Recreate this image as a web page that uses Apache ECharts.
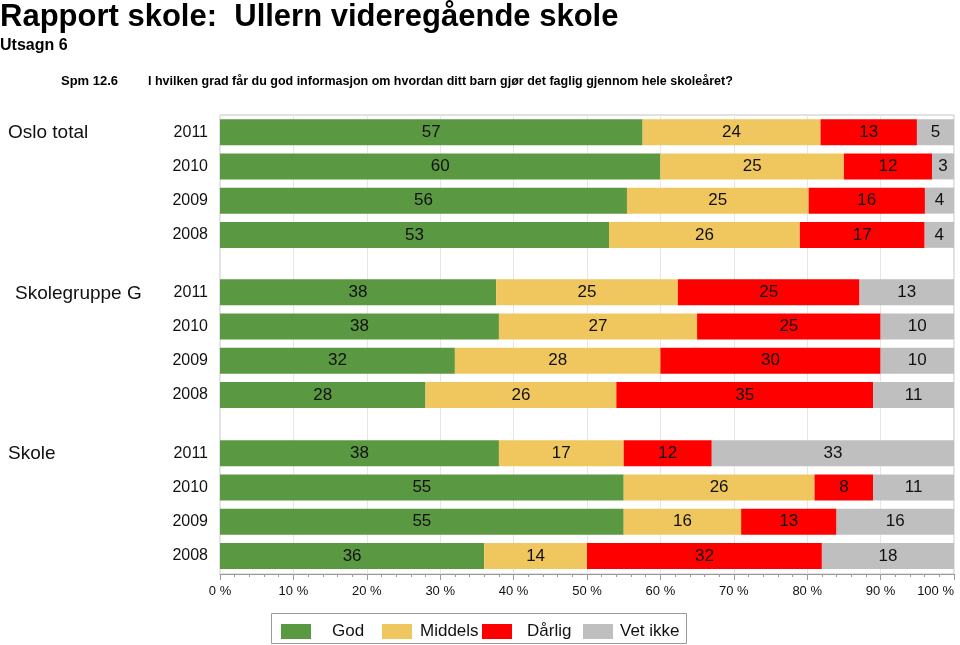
<!DOCTYPE html>
<html>
<head>
<meta charset="utf-8">
<script src="https://cdn.jsdelivr.net/npm/echarts@6/dist/echarts.min.js"></script>
<style>html,body{margin:0;padding:0;background:#fff;}#c{width:960px;height:645px;}</style>
</head>
<body>
<div id="c"></div>
<script>
// ---- data ----
const years = ['2011', '2010', '2009', '2008'];
const groups = ['Oslo total', 'Skolegruppe G', 'Skole'];
const seriesNames = ['God', 'Middels', 'Dårlig', 'Vet ikke'];
// values per group (rows = 2011, 2010, 2009, 2008)
const osloGod     = [57, 60, 56, 53];
const osloMiddels = [24, 25, 25, 26];
const osloDarlig  = [13, 12, 16, 17];
const osloVetIkke = [5, 3, 4, 4];
const gruppeGod     = [38, 38, 32, 28];
const gruppeMiddels = [25, 27, 28, 26];
const gruppeDarlig  = [25, 25, 30, 35];
const gruppeVetIkke = [13, 10, 10, 11];
const skoleGod     = [38, 55, 55, 36];
const skoleMiddels = [17, 26, 16, 14];
const skoleDarlig  = [12, 8, 13, 32];
const skoleVetIkke = [33, 11, 16, 18];
const axisTicks = [0, 10, 20, 30, 40, 50, 60, 70, 80, 90, 100];

const groupData = [
  [osloGod, osloMiddels, osloDarlig, osloVetIkke],
  [gruppeGod, gruppeMiddels, gruppeDarlig, gruppeVetIkke],
  [skoleGod, skoleMiddels, skoleDarlig, skoleVetIkke]
];
const colors = ['#5b9842', '#efc75e', '#fe0000', '#bfbfbf'];
const FONT = "'Liberation Sans', Arial, Helvetica, sans-serif";

const gridTops = [115, 275, 436];
const grids = [{left: 220, right: 6, top: 115, bottom: 71, show: true, borderColor: '#c4c4c4', borderWidth: 1,
  backgroundColor: 'transparent', containLabel: false, outerBoundsMode: 'none'}];
const xAxes = [{
  gridIndex: 0, type: 'value', min: 0, max: 100, interval: 10,
  axisLine: {show: true, lineStyle: {color: '#9a9a9a'}},
  axisTick: {show: true, length: 6, lineStyle: {color: '#9a9a9a'}},
  minorTick: {show: true, splitNumber: 5, length: 3, lineStyle: {color: '#9a9a9a'}},
  splitLine: {show: true, lineStyle: {color: '#e6e6e6'}},
  axisLabel: {margin: 11, fontSize: 13, color: '#111', fontFamily: FONT, alignMaxLabel: 'right',
    formatter: v => axisTicks.includes(v) ? v + ' %' : ''}
}];
const yAxes = [{gridIndex: 0, type: 'category', data: [''], show: false}];
const series = [];
groupData.forEach((g, gi) => {
  grids.push({left: 220, right: 6, top: gridTops[gi], height: 137, containLabel: false, outerBoundsMode: 'none'});
  xAxes.push({gridIndex: gi + 1, type: 'value', min: 0, max: 100, show: false});
  yAxes.push({gridIndex: gi + 1, type: 'category', data: years, inverse: true,
    axisLine: {show: false}, axisTick: {show: false}, splitLine: {show: false},
    axisLabel: {margin: 12, fontSize: 16, color: '#111', fontFamily: FONT}});
  g.forEach((vals, si) => {
    series.push({
      name: seriesNames[si], type: 'bar', stack: 'g' + gi,
      xAxisIndex: gi + 1, yAxisIndex: gi + 1, barWidth: 26,
      itemStyle: {color: colors[si]},
      label: {show: true, position: 'inside', color: '#111', fontSize: 17, fontFamily: FONT,
        formatter: p => p.data.raw},
      data: vals.map((v, i) => {
        const sum = g.reduce((s, arr) => s + arr[i], 0);
        return {value: v / sum * 100, raw: v};
      })
    });
  });
});

const titles = [
  {text: 'Rapport skole:  Ullern videregående skole', left: 0, top: 2, padding: 0,
    textStyle: {fontSize: 31, fontWeight: 'bold', color: '#000', fontFamily: FONT}},
  {text: 'Utsagn 6', left: 0, top: 38, padding: 0,
    textStyle: {fontSize: 16, fontWeight: 'bold', color: '#000', fontFamily: FONT}},
  {text: 'Spm 12.6', left: 61, top: 75, padding: 0,
    textStyle: {fontSize: 13, fontWeight: 'bold', color: '#000', fontFamily: FONT}},
  {text: 'I hvilken grad får du god informasjon om hvordan ditt barn gjør det faglig gjennom hele skoleåret?', left: 148, top: 75, padding: 0,
    textStyle: {fontSize: 12.5, fontWeight: 'bold', color: '#000', fontFamily: FONT}}
];
const groupLabelPos = [[8, 123], [15, 284], [8, 444]];
groups.forEach((name, i) => {
  titles.push({text: name, left: groupLabelPos[i][0], top: groupLabelPos[i][1], padding: 0,
    textStyle: {fontSize: 19, fontWeight: 'normal', color: '#111', fontFamily: FONT}});
});

// legend: one component per item so the texts sit centred in equal slots like the reference
const legendLeft = [281, 382, 482, 583];
const legendTextPad = [16, 3, 10, 2];
const legends = seriesNames.map((n, i) => ({
  data: [n], left: legendLeft[i], top: 623, padding: 0,
  itemWidth: 30, itemHeight: 15, icon: 'rect', selectedMode: false,
  textStyle: {color: '#111', fontFamily: FONT, fontSize: 17, lineHeight: 15,
    padding: [0, 0, 0, legendTextPad[i]]}
}));

const chart = echarts.init(document.getElementById('c'), null, {renderer: 'canvas'});
chart.setOption({
  animation: false,
  backgroundColor: '#fff',
  title: titles,
  legend: legends,
  graphic: [{type: 'rect', shape: {x: 271.5, y: 613.5, width: 415, height: 30},
    style: {fill: 'none', stroke: '#9a9a9a', lineWidth: 1}, silent: true}],
  grid: grids,
  xAxis: xAxes,
  yAxis: yAxes,
  series: series
});
</script>
</body>
</html>
